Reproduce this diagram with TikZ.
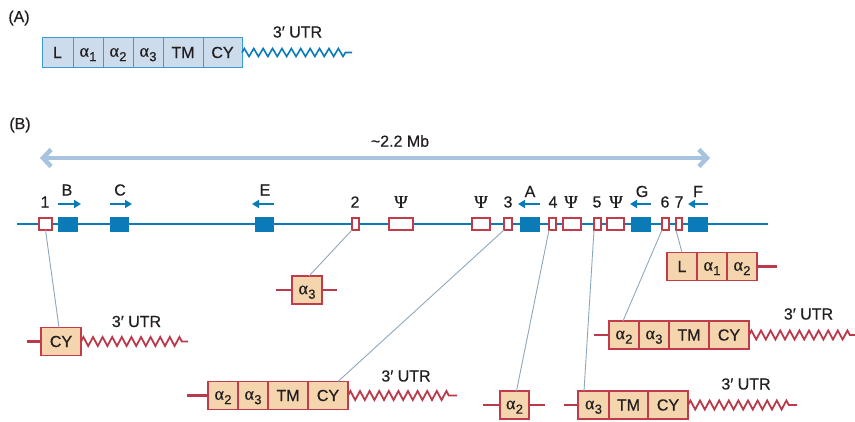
\documentclass[tikz,border=0pt]{standalone}
\usepackage{fontspec}
\setmainfont{Liberation Sans}[FakeBold=0.6]
\newfontfamily\grk{Liberation Serif}[FakeBold=0.6]
\usetikzlibrary{decorations.pathmorphing,arrows.meta,calc}
\definecolor{ink}{HTML}{231F20}
\definecolor{blueD}{HTML}{0A7BB7}
\definecolor{blueFill}{HTML}{CCDCEC}
\definecolor{blueBd}{HTML}{3C9BD2}
\definecolor{bigArr}{HTML}{A8C3DF}
\definecolor{redBd}{HTML}{C23B4B}
\definecolor{redFill}{HTML}{F5D5AD}
\definecolor{redLn}{HTML}{B93A4A}
\definecolor{connC}{HTML}{8CA8BD}
\newcommand\alsub[1]{{\grk\fontsize{18}{18}\selectfont α}\kern0.3pt\raisebox{-4.5pt}[0pt][0pt]{\fontsize{13}{14}\selectfont#1}}
\newcommand\psig{{\grk\fontsize{18}{18}\selectfont Ψ}}
\tikzset{
  txt/.style={font=\fontsize{16}{18}\selectfont, text=ink, inner sep=0pt},
  cellA/.style={txt, draw=blueBd, fill=blueFill, line width=1pt, minimum height=30pt, outer sep=0pt, anchor=west},
  cellR/.style={txt, draw=redBd, fill=redFill, line width=1.3pt, minimum height=28pt, outer sep=0pt, anchor=west},
  genebox/.style={draw=redBd, fill=white, line width=2pt, minimum height=12pt, inner sep=0pt, outer sep=0pt},
  bluebox/.style={fill=blueD, minimum height=15pt, inner sep=0pt, outer sep=0pt},
  chrom/.style={draw=blueD, line width=2.2pt},
  dirarr/.style={draw=blueD, line width=2.2pt, -{Triangle[length=7pt,width=8pt]}},
  bigarrow/.style={draw=bigArr, line width=4.5pt, {Straight Barb[length=8pt,width=17pt]}-{Straight Barb[length=8pt,width=17pt]}},
  conn/.style={draw=connC, line width=0.9pt},
  rline/.style={draw=redLn, line width=2.2pt},
  zzA/.style={draw=blueD, line width=1.6pt, decorate, decoration={zigzag, segment length=9.4pt, amplitude=4pt, post length=4pt}},
  zzR/.style={draw=redLn, line width=1.8pt, decorate, decoration={zigzag, segment length=9.6pt, amplitude=4.5pt, post length=5pt}},
}
\begin{document}
\begin{tikzpicture}[x=1pt,y=-1pt]
\useasboundingbox (0,0) rectangle (855,421);

% ---------------- (A)
\node[txt] (labA) at (19,18) {(A)};
\node[cellA, minimum width=31pt] (a1) at (42,52.5) {L};
\node[cellA, minimum width=30pt] (a2) at (a1.east) {\alsub1};
\node[cellA, minimum width=30pt] (a3) at (a2.east) {\alsub2};
\node[cellA, minimum width=30pt] (a4) at (a3.east) {\alsub3};
\node[cellA, minimum width=40pt] (a5) at (a4.east) {TM};
\node[cellA, minimum width=39pt] (a6) at (a5.east) {CY};
\coordinate (zAend) at (352,52.5);
\draw[zzA] (a6.east) -- (zAend);
\node[txt] (utrA) at (297.5,32) {3′ UTR};

% ---------------- (B)
\node[txt] (labB) at (20,125) {(B)};
\coordinate (bl) at (40,158);
\coordinate (br) at (710,158);
\draw[bigarrow] (bl) -- (br);
\node[txt] (mb) at (400,141) {\textasciitilde2.2 Mb};

\coordinate (chrL) at (17,224);
\coordinate (chrR) at (768,224);
\draw[chrom] (chrL) -- (chrR);

% gene boxes
\node[genebox, minimum width=13pt] (g1) at (45.5,224) {};
\node[bluebox, minimum width=20pt] (bB) at (68,224) {};
\node[bluebox, minimum width=19pt] (bC) at (119.5,224) {};
\node[bluebox, minimum width=19pt] (bE) at (264.5,224) {};
\node[genebox, minimum width=7pt] (g2) at (355.5,224) {};
\node[genebox, minimum width=24pt] (p1) at (401,224) {};
\node[genebox, minimum width=18pt] (p2) at (481,224) {};
\node[genebox, minimum width=8pt] (g3) at (508,224) {};
\node[bluebox, minimum width=20pt] (bA) at (530,224) {};
\node[genebox, minimum width=7pt] (g4) at (552.5,224) {};
\node[genebox, minimum width=18pt] (p3) at (572,224) {};
\node[genebox, minimum width=7pt] (g5) at (597.5,224) {};
\node[genebox, minimum width=17pt] (p4) at (615.5,224) {};
\node[bluebox, minimum width=20pt] (bG) at (641,224) {};
\node[genebox, minimum width=7pt] (g6) at (665.5,224) {};
\node[genebox, minimum width=6pt] (g7) at (679,224) {};
\node[bluebox, minimum width=20pt] (bF) at (698,224) {};

% labels above genes
\node[txt] (l1) at (45,202) {1};
\node[txt] (l2) at (355,202) {2};
\node[txt] (lp1) at (401,202) {\psig};
\node[txt] (lp2) at (481,202) {\psig};
\node[txt] (l3) at (508,202) {3};
\node[txt] (l4) at (553,202) {4};
\node[txt] (lp3) at (571,202) {\psig};
\node[txt] (l5) at (597,202) {5};
\node[txt] (lp4) at (616,202) {\psig};
\node[txt] (l6) at (665,202) {6};
\node[txt] (l7) at (679,202) {7};

\node[txt] (lB) at (67,190) {B};
\node[txt] (lC) at (120,190) {C};
\node[txt] (lE) at (265,190) {E};
\node[txt] (lA) at (530,191.5) {A};
\node[txt] (lG) at (642,191.5) {G};
\node[txt] (lF) at (698,191.5) {F};

% direction arrows
\coordinate (aB1) at (58,204);  \coordinate (aB2) at (81,204);
\coordinate (aC1) at (110,204); \coordinate (aC2) at (132,204);
\coordinate (aE1) at (274,204); \coordinate (aE2) at (252,204);
\coordinate (aA1) at (540,204); \coordinate (aA2) at (518,204);
\coordinate (aG1) at (651,204); \coordinate (aG2) at (630,204);
\coordinate (aF1) at (708,204); \coordinate (aF2) at (688,204);
\draw[dirarr] (aB1) -- (aB2);
\draw[dirarr] (aC1) -- (aC2);
\draw[dirarr] (aE1) -- (aE2);
\draw[dirarr] (aA1) -- (aA2);
\draw[dirarr] (aG1) -- (aG2);
\draw[dirarr] (aF1) -- (aF2);

% ---------- transcripts
% gene 1
\node[cellR, minimum width=40pt] (t1a) at (41,341.5) {CY};
\coordinate (t1s) at (27,341.5);
\draw[rline] (t1s) -- (t1a.west);
\coordinate (t1z) at (188,341.5);
\draw[zzR] (t1a.east) -- (t1z);
\node[txt] (utr1) at (136.5,321.5) {3′ UTR};

% gene 2
\node[cellR, minimum width=30pt] (t2a) at (292,290) {\alsub3};
\coordinate (t2l) at (276,290);
\coordinate (t2r) at (337,290);
\draw[rline] (t2l) -- (t2a.west);
\draw[rline] (t2a.east) -- (t2r);

% gene 3
\node[cellR, minimum width=30pt] (t3a) at (208,395.5) {\alsub2};
\node[cellR, minimum width=30pt] (t3b) at (t3a.east) {\alsub3};
\node[cellR, minimum width=40pt] (t3c) at (t3b.east) {TM};
\node[cellR, minimum width=40pt] (t3d) at (t3c.east) {CY};
\coordinate (t3s) at (187,395.5);
\draw[rline] (t3s) -- (t3a.west);
\coordinate (t3z) at (457,395.5);
\draw[zzR] (t3d.east) -- (t3z);
\node[txt] (utr3) at (406,376) {3′ UTR};

% gene 4
\node[cellR, minimum width=29pt] (t4a) at (500,405) {\alsub2};
\coordinate (t4l) at (483,405);
\coordinate (t4r) at (545,405);
\draw[rline] (t4l) -- (t4a.west);
\draw[rline] (t4a.east) -- (t4r);

% gene 5
\node[cellR, minimum width=31pt] (t5a) at (578,405) {\alsub3};
\node[cellR, minimum width=39pt] (t5b) at (t5a.east) {TM};
\node[cellR, minimum width=40pt] (t5c) at (t5b.east) {CY};
\coordinate (t5s) at (564,405);
\draw[rline] (t5s) -- (t5a.west);
\coordinate (t5z) at (797,405);
\draw[zzR] (t5c.east) -- (t5z);
\node[txt] (utr5) at (746,384) {3′ UTR};

% gene 6
\node[cellR, minimum width=30pt] (t6a) at (609,335) {\alsub2};
\node[cellR, minimum width=30pt] (t6b) at (t6a.east) {\alsub3};
\node[cellR, minimum width=40pt] (t6c) at (t6b.east) {TM};
\node[cellR, minimum width=40pt] (t6d) at (t6c.east) {CY};
\coordinate (t6s) at (594,335);
\draw[rline] (t6s) -- (t6a.west);
\coordinate (t6z) at (855,335);
\draw[zzR] (t6d.east) -- (t6z);
\node[txt] (utr6) at (808.5,314) {3′ UTR};

% gene 7
\node[cellR, minimum width=30pt] (t7a) at (667,266.5) {L};
\node[cellR, minimum width=30pt] (t7b) at (t7a.east) {\alsub1};
\node[cellR, minimum width=30pt] (t7c) at (t7b.east) {\alsub2};
\coordinate (t7r) at (777,266.5);
\draw[rline] (t7c.east) -- (t7r);

% connectors
\draw[conn] (g1.south) -- ([xshift=-2pt]t1a.north);
\draw[conn] (g2.south west) -- ([xshift=2pt]t2a.north);
\draw[conn] (g3.south west) -- ([xshift=-10pt]t3d.north east);
\draw[conn] (g4.south west) -- ([xshift=2pt]t4a.north);
\draw[conn] (g5.south west) -- ([xshift=6pt]t5a.north west);
\draw[conn] (g6.south west) -- ([xshift=-1pt]t6a.north);
\draw[conn] (g7.south west) -- (t7a.north);
\end{tikzpicture}
\end{document}
